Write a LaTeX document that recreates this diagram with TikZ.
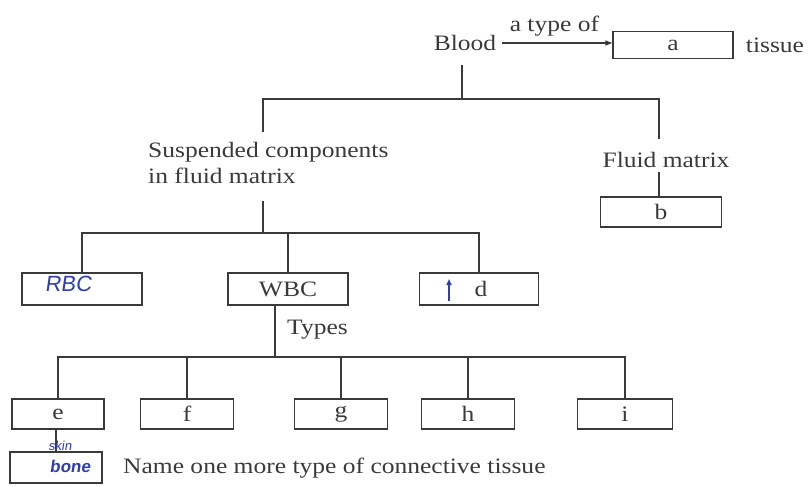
\documentclass[tikz,border=0pt]{standalone}
\usepackage{fontspec}
\setmainfont{Liberation Serif}[FakeStretch=1.16]
\newfontfamily\handfont{Liberation Sans}[FakeSlant=0.15]
\usetikzlibrary{arrows.meta}
\definecolor{ink}{HTML}{3A3A3A}
\definecolor{pen}{HTML}{2E3DB0}
\begin{document}
\begin{tikzpicture}[x=1pt,y=-1pt,
  txt/.style={text=ink, font=\fontsize{22}{26}\selectfont, inner sep=0pt},
  boxnode/.style={draw=ink, line width=1.2pt, inner sep=0pt, text=ink,
     font=\fontsize{22}{26}\selectfont, minimum width=#1, minimum height=30pt},
  boxnode/.default=120pt,
  ln/.style={draw=ink, line width=1.2pt},
  hand/.style={text=pen, inner sep=0pt, font=\handfont\fontsize{22}{24}\selectfont}]
\useasboundingbox (0,0) rectangle (809,487);

% top row
\node[txt] (blood) at (465,43) {Blood};
\node[boxnode, minimum height=27pt] (a) at (673,45) {a};
\node[txt] (tissue) at (775,45) {tissue};
\draw[ln, shorten <=6pt, -{Triangle[length=7pt,width=5pt]}] (blood.east) -- (blood.east -| a.west)
  node[midway, above=6pt, txt] (lbl) {a type of};

% first bar
\coordinate (t1) at (462,99);
\coordinate (tl) at (263,99);
\coordinate (tr) at (659,99);
\node[txt, anchor=north west, inner ysep=10pt, align=left] (susp) at (148,132)
  {Suspended components\\in fluid matrix};
\node[txt, anchor=base, inner ysep=5pt] (fluid) at (666,167) {Fluid matrix};
\node[boxnode=121pt] (b) at (661,212) {b};
\draw[ln, shorten <=14pt] (blood.south -| t1) -- (t1);
\draw[ln] (susp.north -| tl) -- (tl) -- (tr) -- ([yshift=8pt]fluid.north -| tr);
\draw[ln] (fluid.south -| tr) -- (b.north -| tr);

% second bar
\coordinate (m1) at (263,233);
\node[boxnode, minimum height=32pt] (rbc) at (82,289) {};
\node[boxnode, minimum height=32pt] (wbc) at (288,289) {WBC};
\node[boxnode=119pt, minimum height=32pt] (dnode) at (479,289) {\hspace*{4pt}d};
\draw[ln, shorten <=7pt] (susp.south -| m1) -- (m1);
\draw[ln] (rbc.north) -- (rbc.north |- m1) -- (dnode.north |- m1) -- (dnode.north);
\draw[ln] (wbc.north |- m1) -- (wbc.north);

% handwriting level 2
\node[hand] (rbctext) at (68,284) {RBC};
\coordinate (ar1) at (449,301);
\coordinate (ar2) at (449,279);
\draw[pen, line width=1.6pt, -{Triangle[length=6pt,width=5pt]}] (ar1) -- (ar2);

% third bar
\coordinate (w1) at (275,357);
\node[txt, anchor=west] (types) at (287,330) {Types};
\node[boxnode=92pt] (e) at (58,414) {e};
\node[boxnode=93pt] (f) at (187,414) {f};
\node[boxnode=93pt] (g) at (341,414) {g};
\node[boxnode=93pt] (h) at (468,414) {h};
\node[boxnode=95pt] (i) at (625,414) {i};
\draw[ln] (wbc.south -| w1) -- (w1);
\draw[ln] (e.north) -- (e.north |- w1) -- (i.north |- w1) -- (i.north);
\draw[ln] (f.north |- w1) -- (f.north);
\draw[ln] (g.north |- w1) -- (g.north);
\draw[ln] (h.north |- w1) -- (h.north);

% bottom
\node[boxnode=92pt, minimum height=31pt] (bot) at (56,467.5) {};
\draw[ln] (e.south -| bot) -- (bot.north);
\node[txt, anchor=west] (q) at (123,468) {Name one more type of connective tissue};
\node[hand, font=\handfont\fontsize{13}{14}\selectfont] (skin) at (60,446) {skin};
\node[hand, font=\handfont\bfseries\fontsize{17}{18}\selectfont] (bone) at (70,466) {bone};
\end{tikzpicture}
\end{document}
